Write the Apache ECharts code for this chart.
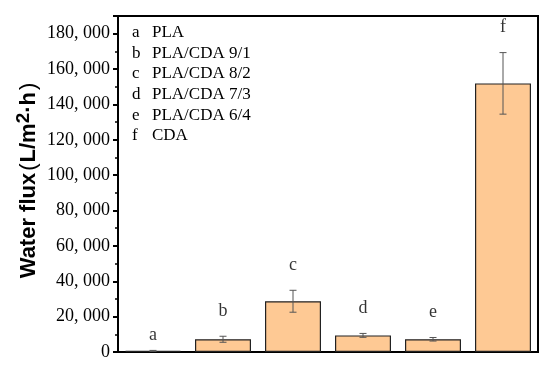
<!DOCTYPE html>
<html>
<head>
<meta charset="utf-8">
<script src="https://cdn.jsdelivr.net/npm/echarts@6/dist/echarts.min.js"></script>
<style>html,body{margin:0;padding:0;background:#fff;}#c{width:550px;height:368px;}</style>
</head>
<body>
<div id="c"></div>
<script>
const categories = ['a', 'b', 'c', 'd', 'e', 'f'];
const fluxValues = [600, 7200, 28700, 9400, 7200, 151900];
const fluxErrors = [300, 1700, 6200, 1100, 1000, 17400];
const groupLetters = ['a', 'b', 'c', 'd', 'e', 'f'];
const legendLetters = ['a', 'b', 'c', 'd', 'e', 'f'];
const legendNames = ['PLA', 'PLA/CDA 9/1', 'PLA/CDA 8/2', 'PLA/CDA 7/3', 'PLA/CDA 6/4', 'CDA'];
const yTicks = [0, 20000, 40000, 60000, 80000, 100000, 120000, 140000, 160000, 180000];

const serif = '"Liberation Serif", "Times New Roman", serif';
const sans = '"Liberation Sans", Arial, sans-serif';
const chart = echarts.init(document.getElementById('c'), null, {renderer: 'canvas'});

const errData = categories.map((c, i) => [i, fluxValues[i] - fluxErrors[i], fluxValues[i] + fluxErrors[i]]);
const letterData = categories.map((c, i) => ({
  value: [i, fluxValues[i] + fluxErrors[i]],
  label: {distance: i === 0 ? 6 : 16}
}));

chart.setOption({
  animation: false,
  grid: {left: 118, right: 12, top: 16, bottom: 16, show: true, borderColor: '#000', borderWidth: 2, backgroundColor: 'transparent'},
  xAxis: {
    type: 'category',
    data: categories,
    axisLine: {lineStyle: {color: '#000', width: 2}},
    axisTick: {show: false},
    axisLabel: {show: false},
    splitLine: {show: false}
  },
  yAxis: {
    type: 'value',
    min: 0,
    max: 190000,
    interval: 20000,
    axisLine: {show: true, lineStyle: {color: '#000', width: 2}},
    axisTick: {show: true, inside: false, length: 5, lineStyle: {color: '#000', width: 2}},
    minorTick: {show: true, splitNumber: 2, length: 3, lineStyle: {color: '#000', width: 1.5}},
    splitLine: {show: false},
    axisLabel: {
      showMaxLabel: false,
      margin: 8,
      color: '#000',
      fontFamily: serif,
      fontSize: 18,
      formatter: v => yTicks.indexOf(v) < 0 ? '' : (v === 0 ? '0' : Math.round(v / 1000) + ', 000')
    }
  },
  graphic: [
    {
      type: 'text',
      x: 27, y: 180,
      rotation: Math.PI / 2,
      style: {
        text: '{a|Water flux}{p|(}{a|L/m}{s|2}{a|·h}{p|)}',
        align: 'center',
        verticalAlign: 'middle',
        rich: {
          a: {fontFamily: sans, fontWeight: 'bold', fontSize: 22, fill: '#000', verticalAlign: 'bottom'},
          p: {fontFamily: sans, fontWeight: 'normal', fontSize: 22, fill: '#000', verticalAlign: 'bottom', padding: [0, 1, 0, 2]},
          s: {fontFamily: sans, fontWeight: 'bold', fontSize: 19, fill: '#000', verticalAlign: 'top', padding: [0, 0, 6, 0]}
        }
      }
    },
    {
      type: 'text', left: 132, top: 22,
      style: {text: legendLetters.join('\n'), font: '17px ' + serif, lineHeight: 20.7, fill: '#000'}
    },
    {
      type: 'text', left: 152, top: 22,
      style: {text: legendNames.join('\n'), font: '17px ' + serif, lineHeight: 20.7, fill: '#000'}
    }
  ],
  series: [
    {
      type: 'bar',
      data: fluxValues,
      barWidth: '80%',
      itemStyle: {color: '#FEC994', borderColor: '#222', borderWidth: 1.2}
    },
    {
      type: 'custom',
      data: errData,
      z: 5,
      renderItem: (params, api) => {
        const lo = api.coord([api.value(0), api.value(1)]);
        const hi = api.coord([api.value(0), api.value(2)]);
        const w = 3.5;
        const st = {stroke: '#555', lineWidth: 1};
        return {
          type: 'group',
          children: [
            {type: 'line', shape: {x1: lo[0], y1: lo[1], x2: hi[0], y2: hi[1]}, style: st},
            {type: 'line', shape: {x1: lo[0] - w, y1: lo[1], x2: lo[0] + w, y2: lo[1]}, style: st},
            {type: 'line', shape: {x1: hi[0] - w, y1: hi[1], x2: hi[0] + w, y2: hi[1]}, style: st}
          ]
        };
      }
    },
    {
      type: 'scatter',
      data: letterData,
      symbolSize: 0,
      label: {
        show: true,
        position: 'top',
        color: '#000',
        fontFamily: serif,
        fontSize: 18,
        formatter: p => groupLetters[p.dataIndex]
      }
    }
  ]
});
</script>
</body>
</html>
